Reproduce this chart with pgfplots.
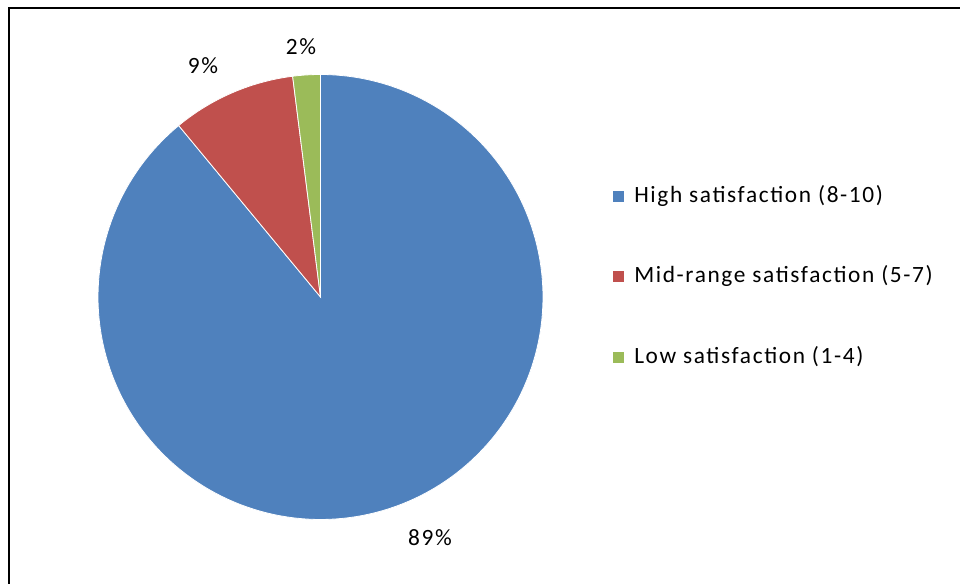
\documentclass[border=0pt]{standalone}
\usepackage{pgfplots}
\pgfplotsset{compat=1.18}
\usepackage{pgfplotstable}
\usepackage{fontspec}
\setmainfont{Carlito}[LetterSpace=7]
\definecolor{cBlue}{HTML}{4F81BD}
\definecolor{cRed}{HTML}{C0504D}
\definecolor{cGreen}{HTML}{9BBB59}
\pgfplotstableread{
label value
High 89
Mid 9
Low 2
}\piedata
\pgfplotstablegetelem{0}{value}\of\piedata \edef\vA{\pgfplotsretval}
\pgfplotstablegetelem{1}{value}\of\piedata \edef\vB{\pgfplotsretval}
\pgfplotstablegetelem{2}{value}\of\piedata \edef\vC{\pgfplotsretval}
\pgfmathsetmacro{\aZero}{90}
\pgfmathsetmacro{\aOne}{90-3.6*\vA}
\pgfmathsetmacro{\aTwo}{\aOne-3.6*\vB}
\pgfmathsetmacro{\aThree}{\aTwo-3.6*\vC}
\def\cx{320.5}
\def\cy{287}
\def\rr{222.5}
\newcommand\lblfont{\fontsize{17.5pt}{21pt}\selectfont}
\begin{document}%
\begin{tikzpicture}
\useasboundingbox (0,0) rectangle (720pt,438pt);
\begin{axis}[
  at={(0,0)}, anchor=south west,
  scale only axis, width=720pt, height=438pt,
  xmin=0, xmax=960, ymin=0, ymax=584,
  hide axis, clip=false,
]
\addplot[fill=cBlue, draw=white, line width=0.6pt, domain=\aOne:\aZero, samples=181, variable=\t]
  ({\cx+\rr*cos(t)}, {\cy+\rr*sin(t)}) -- (axis cs:\cx,\cy) -- cycle;
\addplot[fill=cRed, draw=white, line width=0.6pt, domain=\aTwo:\aOne, samples=40, variable=\t]
  ({\cx+\rr*cos(t)}, {\cy+\rr*sin(t)}) -- (axis cs:\cx,\cy) -- cycle;
\addplot[fill=cGreen, draw=white, line width=0.6pt, domain=\aThree:\aTwo, samples=15, variable=\t]
  ({\cx+\rr*cos(t)}, {\cy+\rr*sin(t)}) -- (axis cs:\cx,\cy) -- cycle;
% percentage labels
\node[font=\lblfont] at (axis cs:430,46) {\vA\%};
\node[font=\lblfont] at (axis cs:203,518) {\vB\%};
\node[font=\lblfont] at (axis cs:301,537) {\vC\%};
% legend
\fill[cBlue] (axis cs:613,382) rectangle (axis cs:624,393);
\node[anchor=west, font=\lblfont, inner sep=0pt] at (axis cs:634,388) {High satisfaction (8-10)};
\fill[cRed] (axis cs:613,302) rectangle (axis cs:624,313);
\node[anchor=west, font=\lblfont, inner sep=0pt] at (axis cs:634,308) {Mid-range satisfaction (5-7)};
\fill[cGreen] (axis cs:613,221) rectangle (axis cs:624,232);
\node[anchor=west, font=\lblfont, inner sep=0pt] at (axis cs:634,227) {Low satisfaction (1-4)};
% frame (top and left edges)
\draw[line width=1.5pt] (axis cs:9,0) -- (axis cs:9,575.5) -- (axis cs:960,575.5);
\end{axis}
\end{tikzpicture}%
\end{document}
